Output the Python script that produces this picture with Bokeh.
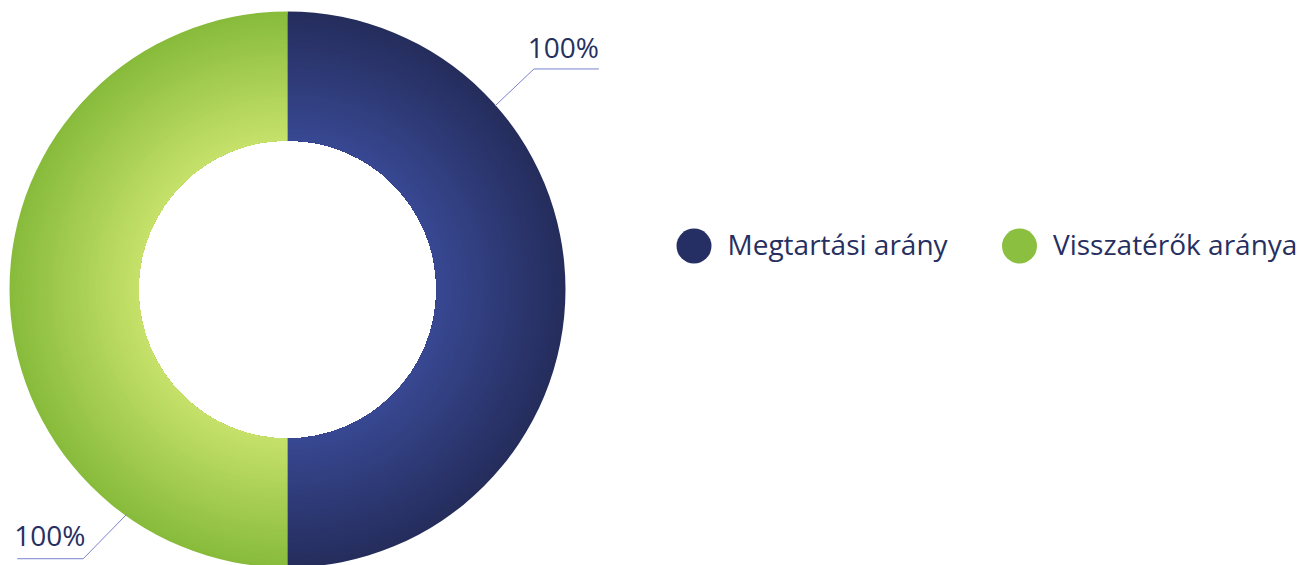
import math
from bokeh.plotting import figure
from bokeh.models import Range1d, ColumnDataSource
from bokeh.core.properties import value
from bokeh.embed import file_html
from bokeh.resources import INLINE

# ---- data ----
categories = ["Megtartási arány", "Visszatérők aránya"]
values = [100, 100]
label_texts = ["100%", "100%"]

# ---- style ----
inner_cols = [(0x38, 0x48, 0x92), (0xc6, 0xe1, 0x6a)]
outer_cols = [(0x25, 0x2d, 0x5c), (0x87, 0xbb, 0x3b)]
legend_cols = ["#262f63", "#8bbf40"]
text_col = "#272f5f"
leader_col = "#7a82d0"
FONT = "Open Sans"
TEXT_SHIFT = 11

W, H = 1308, 565
cx, cy = 287, 276
r_in, r_out = 149, 278

p = figure(width=W, height=H, output_backend="svg", toolbar_location=None,
           x_range=Range1d(0, W), y_range=Range1d(0, H),
           min_border=0, outline_line_color=None)
p.axis.visible = False
p.grid.visible = False
p.background_fill_color = "white"
p.border_fill_color = "white"

def hexcol(c):
    return "#%02x%02x%02x" % tuple(int(round(v)) for v in c)

total = float(sum(values))
starts, ends = [], []
a = math.pi / 2
for v in values:
    sweep = v / total * 2 * math.pi
    starts.append(a)
    ends.append(a - sweep)
    a -= sweep

N = 60
rows = dict(x=[], y=[], ir=[], orr=[], sa=[], ea=[], c=[])
for k in range(N, 0, -1):
    ro = r_in + (r_out - r_in) * k / N
    t = (k - 0.5) / N
    for i in range(len(values)):
        ci, co = inner_cols[i], outer_cols[i]
        col = tuple(ci[j] + (co[j] - ci[j]) * t for j in range(3))
        rows["x"].append(cx); rows["y"].append(cy)
        rows["ir"].append(r_in); rows["orr"].append(ro)
        rows["sa"].append(starts[i]); rows["ea"].append(ends[i])
        rows["c"].append(hexcol(col))
src = ColumnDataSource(rows)
p.annular_wedge(x="x", y="y", inner_radius="ir", outer_radius="orr",
                start_angle="sa", end_angle="ea", direction="clock",
                fill_color="c", line_color=None, source=src)

# ---- labels with leader lines ----
label_angles = [math.radians(41.5), math.radians(234.4)]
elbow = [(39, 37), (-43, -44)]
tail = [65, -66]
for i, txt in enumerate(label_texts):
    ang = label_angles[i]
    x0 = cx + (r_out - 1) * math.cos(ang)
    y0 = cy + (r_out - 1) * math.sin(ang)
    x1, y1 = x0 + elbow[i][0], y0 + elbow[i][1]
    x2 = x1 + tail[i]
    p.line([x0, x1, x2], [y0, y1, y1], line_color=leader_col, line_width=1)
    if tail[i] > 0:
        p.text([x2], [y1 + 11 + TEXT_SHIFT], text=[txt], text_align="right",
               text_baseline="alphabetic", text_font=value(FONT),
               text_font_size="28px", text_color=text_col)
    else:
        p.text([x2 - 3], [y1 + 13 + TEXT_SHIFT], text=[txt], text_align="left",
               text_baseline="alphabetic", text_font=value(FONT),
               text_font_size="28px", text_color=text_col)

# ---- legend ----
leg_x = [693.5, 1019]
leg_y = 319.5
p.scatter(leg_x, [leg_y] * 2, size=35, marker="circle",
          fill_color=legend_cols, line_color=None)
p.text([x + 33.5 for x in leg_x], [leg_y - 8.5 + TEXT_SHIFT] * 2, text=categories,
       text_align="left", text_baseline="alphabetic", text_font=value(FONT),
       text_font_size="28px", text_color=text_col)

html = file_html(p, INLINE)
html = html.replace("<head>", "<head><style>html,body{overflow:hidden;}</style>", 1)
open("out.html", "w").write(html)
